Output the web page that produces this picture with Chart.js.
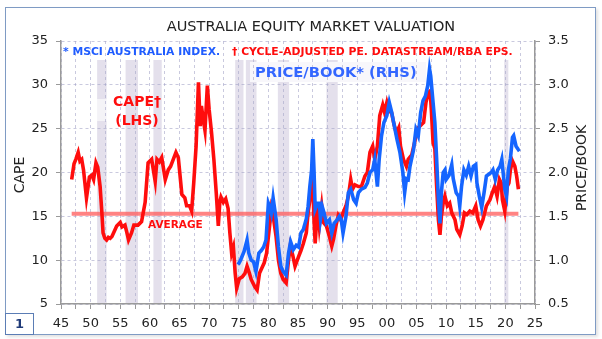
<!DOCTYPE html>
<html>
<head>
<meta charset="utf-8">
<script src="https://cdn.jsdelivr.net/npm/chart.js@4.4.1/dist/chart.umd.min.js"></script>
<style>
    html, body { margin: 0; padding: 0; background: #fff; }
    #wrap { position: relative; width: 602px; height: 339px; }
    #frame {
        position: absolute; left: 5px; top: 7px; width: 591px; height: 328px;
        border: 1.5px solid #7f9bc4; box-sizing: border-box;
        box-shadow: 2px 2px 3px rgba(0, 0, 0, 0.12);
    }
    #pageNo {
        position: absolute; left: 5px; top: 313px; width: 29px; height: 22px;
        border: 1.5px solid #5b7db5; box-sizing: border-box;
        font: bold 13px 'DejaVu Sans'; color: #1f3a78; text-align: center; line-height: 19px;
    }
    canvas { position: absolute; left: 0; top: 0; }
</style>
</head>
<body>
<div id="wrap">
    <div id="frame"></div>
    <canvas id="chart" width="602" height="339"></canvas>
    <div id="pageNo">1</div>
</div>
<script>
// CAPE (LHS) - cycle-adjusted PE
const capeYears = [
    1946.8, 1947.2, 1947.5, 1947.9, 1948.2, 1948.5, 1948.8, 1949.3, 1949.8, 1950.2,
    1950.5, 1950.9, 1951.2, 1951.6, 1951.9, 1952.1, 1952.4, 1952.7, 1953.0, 1953.3,
    1953.6, 1954.0, 1954.4, 1955.0, 1955.3, 1955.8, 1956.1, 1956.4, 1956.9, 1957.3,
    1958.0, 1958.6, 1959.2, 1959.7, 1960.3, 1960.9, 1961.2, 1961.6, 1962.0, 1962.6,
    1963.1, 1963.5, 1963.95, 1964.4, 1964.8, 1965.1, 1965.4, 1965.9, 1966.2, 1966.7,
    1967.05, 1967.4, 1967.8, 1968.2, 1968.5, 1968.7, 1969.0, 1969.3, 1969.7, 1970.0,
    1970.4, 1970.8, 1971.2, 1971.55, 1971.8, 1972.0, 1972.4, 1972.8, 1973.2, 1973.5,
    1973.8, 1974.1, 1974.4, 1974.65, 1975.1, 1975.6, 1976.05, 1976.4, 1976.8, 1977.1,
    1977.7, 1978.1, 1978.5, 1978.9, 1979.3, 1979.7, 1980.2, 1980.5, 1980.8, 1981.3,
    1981.7, 1982.1, 1982.5, 1983.0, 1983.4, 1983.7, 1984.1, 1984.5, 1985.1, 1985.5,
    1985.9, 1986.4, 1986.7, 1987.1, 1987.5, 1987.7, 1987.9, 1988.3, 1988.6, 1989.0,
    1989.3, 1989.8, 1990.3, 1990.7, 1991.0, 1991.4, 1991.8, 1992.2, 1992.6, 1993.1,
    1993.5, 1993.9, 1994.2, 1994.6, 1995.2, 1995.7, 1996.3, 1996.7, 1997.15, 1997.6,
    1997.95, 1998.4, 1998.8, 1999.3, 1999.6, 2000.0, 2000.4, 2000.8, 2001.2, 2001.6,
    2002.0, 2002.3, 2002.8, 2003.3, 2003.6, 2004.2, 2004.8, 2005.1, 2005.6, 2006.2,
    2006.6, 2007.0, 2007.3, 2007.5, 2007.8, 2008.1, 2008.4, 2008.7, 2008.96, 2009.2,
    2009.5, 2009.8, 2010.2, 2010.6, 2010.95, 2011.5, 2011.8, 2012.3, 2012.7, 2013.1,
    2013.5, 2014.0, 2014.5, 2015.0, 2015.4, 2015.8, 2016.2, 2016.8, 2017.4, 2017.8,
    2018.2, 2018.6, 2019.0, 2019.3, 2019.5, 2019.9, 2020.3, 2020.6, 2020.85, 2021.2,
    2021.6, 2021.9, 2022.2
];
const capeValues = [
    19.2, 21.0, 21.5, 22.3, 21.3, 21.5, 20.3, 17.1, 19.5, 19.7,
    19.2, 21.1, 20.6, 18.4, 15.4, 13.1, 12.5, 12.3, 12.6, 12.5,
    12.7, 13.3, 13.9, 14.3, 13.8, 14.0, 13.2, 12.3, 13.1, 14.0,
    14.0, 14.4, 16.6, 21.1, 21.5, 19.0, 21.5, 21.2, 21.7, 19.2,
    20.3, 20.7, 21.5, 22.3, 21.7, 19.6, 17.5, 17.1, 16.2, 16.2,
    15.6, 18.8, 23.0, 30.3, 25.3, 27.6, 26.1, 24.8, 29.9, 27.2,
    24.6, 21.5, 17.7, 13.9, 16.6, 17.2, 16.6, 17.0, 15.9, 13.1,
    10.8, 11.5, 8.5, 6.8, 7.9, 8.1, 8.5, 9.3, 8.5, 7.8,
    7.0, 6.6, 8.5, 9.1, 9.7, 10.8, 13.9, 15.9, 15.1, 12.7,
    10.0, 8.5, 7.8, 7.4, 10.0, 11.6, 10.6, 9.3, 10.4, 11.1,
    11.9, 13.1, 15.4, 17.3, 18.8, 14.6, 11.9, 16.2, 13.9, 16.2,
    14.3, 13.9, 12.7, 11.6, 12.4, 13.9, 15.1, 14.6, 15.4, 16.2,
    17.3, 19.2, 18.1, 18.6, 18.4, 18.4, 19.6, 20.0, 22.3, 23.0,
    21.5, 23.0, 26.5, 27.7, 26.9, 28.0, 27.0, 26.8, 25.5, 24.5,
    25.1, 23.0, 21.5, 20.7, 21.5, 22.0, 23.8, 25.0, 25.3, 25.7,
    28.0, 29.1, 29.3, 27.2, 23.4, 22.7, 18.4, 14.6, 12.9, 15.0,
    16.5, 17.3, 16.2, 16.5, 15.4, 14.6, 13.5, 12.9, 13.9, 15.4,
    15.2, 15.6, 15.4, 16.2, 14.6, 13.9, 14.6, 16.2, 16.9, 17.7,
    18.4, 17.3, 19.2, 18.8, 16.9, 15.6, 18.4, 18.8, 20.3, 21.3,
    20.7, 19.6, 18.1
];

// Price/book (RHS) - MSCI Australia
const pbYears = [
    1974.9, 1975.3, 1975.9, 1976.4, 1976.7, 1977.1, 1977.5, 1977.9, 1978.4, 1978.8,
    1979.2, 1979.6, 1980.0, 1980.3, 1980.5, 1980.8, 1981.3, 1981.7, 1982.1, 1982.5,
    1983.0, 1983.4, 1983.75, 1984.2, 1984.7, 1985.1, 1985.5, 1985.9, 1986.4, 1986.7,
    1987.0, 1987.3, 1987.5, 1987.7, 1987.9, 1988.3, 1988.6, 1988.8, 1989.1, 1989.4,
    1989.8, 1990.3, 1990.7, 1991.1, 1991.6, 1992.0, 1992.3, 1992.6, 1993.1, 1993.5,
    1993.9, 1994.4, 1994.8, 1995.2, 1995.7, 1996.3, 1996.7, 1997.15, 1997.6, 1997.95,
    1998.4, 1998.7, 1999.1, 1999.5, 2000.0, 2000.4, 2000.8, 2001.2, 2001.7, 2002.2,
    2002.7, 2003.0, 2003.3, 2003.6, 2003.9, 2004.5, 2004.9, 2005.3, 2005.7, 2006.1,
    2006.5, 2006.9, 2007.2, 2007.4, 2007.7, 2008.1, 2008.4, 2008.7, 2008.96, 2009.2,
    2009.5, 2009.8, 2010.0, 2010.5, 2010.95, 2011.2, 2011.7, 2012.1, 2012.3, 2012.6,
    2013.0, 2013.4, 2013.8, 2014.2, 2014.6, 2015.0, 2015.2, 2015.6, 2016.0, 2016.4,
    2016.8, 2017.2, 2017.6, 2017.9, 2018.3, 2018.7, 2019.1, 2019.4, 2019.9, 2020.2,
    2020.5, 2020.85, 2021.2, 2021.4, 2021.8, 2022.2, 2022.4
];
const pbValues = [
    0.95, 1.00, 1.10, 1.23, 1.08, 1.00, 0.98, 0.87, 1.08, 1.11,
    1.15, 1.23, 1.65, 1.60, 1.54, 1.71, 1.47, 1.15, 0.93, 0.87,
    0.83, 1.08, 1.21, 1.12, 1.17, 1.15, 1.31, 1.35, 1.47, 1.61,
    1.84, 2.03, 2.38, 2.03, 1.58, 1.65, 1.65, 1.47, 1.61, 1.54,
    1.42, 1.46, 1.31, 1.42, 1.46, 1.50, 1.46, 1.31, 1.50, 1.77,
    1.81, 1.69, 1.65, 1.77, 1.81, 1.83, 1.88, 2.00, 2.03, 2.15,
    1.84, 2.15, 2.42, 2.57, 2.65, 2.80, 2.69, 2.55, 2.38, 2.23,
    2.00, 1.77, 1.93, 1.92, 2.07, 2.26, 2.49, 2.42, 2.68, 2.82,
    2.87, 2.99, 3.18, 3.10, 2.87, 2.57, 2.15, 1.69, 1.42, 1.77,
    2.00, 2.03, 1.92, 1.97, 2.09, 1.93, 1.77, 1.73, 1.62, 1.84,
    2.03, 1.97, 2.07, 1.96, 2.07, 2.09, 1.88, 1.73, 1.60, 1.77,
    1.96, 1.98, 2.00, 2.03, 1.92, 2.03, 2.07, 2.15, 1.81, 1.73,
    2.03, 2.16, 2.40, 2.42, 2.30, 2.26, 2.27
];

// CAPE long-run average
const avgYears = [1946.8, 2022.2];
const avgValue = 15.3;

// recession shading
const bandStart = [1951.1, 1955.9, 1960.6, 1974.4, 1976.2, 1981.6, 1989.8, 2019.8];
const bandEnd = [1952.7, 1958.0, 1962.0, 1975.8, 1978.0, 1983.5, 1991.7, 2020.5];

const toPoints = (xs, ys) => xs.map((x, i) => ({ x: x, y: ys[i] }));

const FONT = "'DejaVu Sans'";
const RED = '#ff0d0d';
const BLUE = '#1565ff';

const decorPlugin = {
    id: 'decor',
    beforeDraw(chart) {
        const { ctx, chartArea, scales } = chart;
        const h = chartArea.bottom - chartArea.top;
        ctx.save();
        ctx.fillStyle = '#e4e0ec';
        for (let i = 0; i < bandStart.length; i++) {
            const x0 = scales.x.getPixelForValue(bandStart[i]);
            const x1 = scales.x.getPixelForValue(bandEnd[i]);
            ctx.fillRect(x0, chartArea.top, x1 - x0, h);
        }
        // boxes behind the notes
        ctx.fillStyle = '#ffffff';
        ctx.fillRect(chartArea.left + 1, chartArea.top, chartArea.right - chartArea.left - 2, 19);
        ctx.fillStyle = '#f8f7fb';
        ctx.fillRect(250, 62, 176, 20);
        ctx.fillStyle = 'rgba(255, 255, 255, 0.6)';
        ctx.fillRect(96, 99, 18, 22);
        ctx.restore();
    },
    afterDraw(chart) {
        const ctx = chart.ctx;
        ctx.save();
        ctx.textBaseline = 'middle';

        ctx.fillStyle = '#222';
        ctx.textAlign = 'center';
        ctx.font = '14.5px ' + FONT;
        ctx.fillText('AUSTRALIA EQUITY MARKET VALUATION', 311, 27);

        ctx.textAlign = 'left';
        ctx.font = 'bold 10.8px ' + FONT;
        ctx.fillStyle = '#1f5cff';
        ctx.fillText('* MSCI AUSTRALIA INDEX.', 63, 52);
        ctx.fillStyle = RED;
        ctx.fillText('\u2020 CYCLE-ADJUSTED PE. DATASTREAM/RBA EPS.', 232, 52);

        ctx.font = 'bold 14.7px ' + FONT;
        ctx.fillStyle = '#3366ff';
        ctx.fillText('PRICE/BOOK* (RHS)', 255, 73);

        ctx.textAlign = 'center';
        ctx.font = 'bold 14px ' + FONT;
        ctx.fillStyle = RED;
        ctx.fillText('CAPE\u2020', 137, 102);
        ctx.fillText('(LHS)', 137, 121);

        ctx.textAlign = 'left';
        ctx.font = 'bold 10.5px ' + FONT;
        ctx.fillText('AVERAGE', 148, 225);

        // axis titles, both read bottom to top
        ctx.fillStyle = '#222';
        ctx.textAlign = 'center';
        ctx.font = '14px ' + FONT;
        ctx.translate(20, 175);
        ctx.rotate(-Math.PI / 2);
        ctx.fillText('CAPE', 0, 0);
        ctx.rotate(Math.PI / 2);
        ctx.translate(562, -7);
        ctx.rotate(-Math.PI / 2);
        ctx.fillText('PRICE/BOOK', 0, 0);
        ctx.restore();
    }
};

const gridColor = 'rgba(165, 165, 200, 0.6)';
const axisColor = '#9a9a9a';

new Chart(document.getElementById('chart').getContext('2d'), {
    type: 'line',
    data: {
        datasets: [
            {
                label: 'Price/Book',
                data: toPoints(pbYears, pbValues),
                yAxisID: 'y1',
                borderColor: BLUE,
                borderWidth: 3.6,
                pointRadius: 0,
                tension: 0,
                order: 0
            },
            {
                label: 'CAPE',
                data: toPoints(capeYears, capeValues),
                yAxisID: 'y',
                borderColor: RED,
                borderWidth: 3.6,
                pointRadius: 0,
                tension: 0,
                order: 1
            },
            {
                label: 'Average',
                data: avgYears.map(x => ({ x: x, y: avgValue })),
                yAxisID: 'y',
                borderColor: 'rgba(255, 90, 90, 0.75)',
                borderWidth: 4,
                pointRadius: 0,
                order: 2
            }
        ]
    },
    options: {
        responsive: false,
        animation: false,
        devicePixelRatio: 1,
        layout: { padding: { top: 41, left: 0, right: 0, bottom: 0 } },
        plugins: {
            legend: { display: false },
            tooltip: { enabled: false }
        },
        scales: {
            x: {
                type: 'linear',
                min: 1945,
                max: 2025,
                afterFit: scale => { scale.height = 35; },
                border: { color: axisColor, width: 1.5, dash: [3, 3] },
                grid: {
                    color: gridColor,
                    tickColor: axisColor,
                    tickLength: 5,
                    tickBorderDash: []
                },
                ticks: {
                    stepSize: 2.5,
                    autoSkip: false,
                    maxRotation: 0,
                    padding: 7,
                    color: '#222',
                    font: { family: 'DejaVu Sans', size: 13 },
                    callback: v => {
                        const yr = Math.round(v * 10) / 10;
                        return yr % 5 === 0 ? String(yr % 100).padStart(2, '0') : '';
                    }
                }
            },
            y: {
                position: 'left',
                min: 5,
                max: 35,
                afterFit: scale => { scale.width = 61; },
                border: { color: axisColor, width: 1.5, dash: [3, 3] },
                grid: {
                    color: gridColor,
                    tickColor: axisColor,
                    tickLength: 5,
                    tickBorderDash: []
                },
                ticks: {
                    stepSize: 5,
                    padding: 8,
                    color: '#222',
                    font: { family: 'DejaVu Sans', size: 13 }
                }
            },
            y1: {
                position: 'right',
                min: 0.5,
                max: 3.5,
                afterFit: scale => { scale.width = 67; },
                border: { color: axisColor, width: 1.5 },
                grid: {
                    drawOnChartArea: false,
                    tickColor: axisColor,
                    tickLength: 5
                },
                ticks: {
                    stepSize: 0.5,
                    padding: 8,
                    color: '#222',
                    font: { family: 'DejaVu Sans', size: 13 },
                    callback: v => v.toFixed(1)
                }
            }
        }
    },
    plugins: [decorPlugin]
});
</script>
</body>
</html>
